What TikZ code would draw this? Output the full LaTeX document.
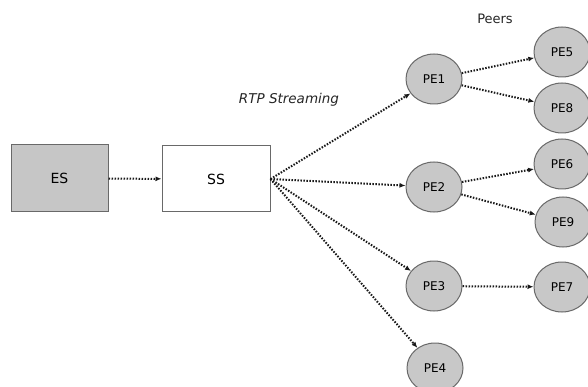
\documentclass[tikz,border=0pt]{standalone}
\usepackage{fontspec}
\setmainfont{DejaVu Sans}
\usetikzlibrary{shapes.geometric,arrows.meta}
\definecolor{boxgray}{RGB}{198,198,198}
\definecolor{peerfill}{RGB}{200,200,200}
\definecolor{edgegray}{RGB}{105,105,105}
\tikzset{
  server/.style={draw=edgegray,line width=1pt,minimum width=97pt,minimum height=67pt,inner sep=0pt,font=\fontsize{14}{16}\selectfont},
  peer/.style={ellipse,draw=edgegray,line width=1pt,fill=peerfill,minimum width=56pt,minimum height=50pt,inner sep=0pt,font=\fontsize{12}{14}\selectfont},
  flow/.style={line width=2pt,dash pattern=on 1.5pt off 1.5pt,-{Latex[length=6pt,width=5pt]},black!90},
  lbl/.style={font=\fontsize{13}{15}\selectfont,text=black!85}
}
\begin{document}
\begin{tikzpicture}[x=1pt,y=-1pt]
\useasboundingbox[fill=white] (0,0) rectangle (588,387);
% servers
\node[server,fill=boxgray] (ES) at (59.5,178.5) {ES};
\node[server,fill=white,minimum width=108pt,minimum height=66pt] (SS) at (216,179) {SS};
% peers
\node[peer] (PE1) at (434,79) {PE1};
\node[peer] (PE2) at (434,187) {PE2};
\node[peer] (PE3) at (434,286) {PE3};
\node[peer] (PE4) at (435,368) {PE4};
\node[peer] (PE5) at (562,52) {PE5};
\node[peer] (PE8) at (562,108) {PE8};
\node[peer] (PE6) at (562,164) {PE6};
\node[peer] (PE9) at (563,222) {PE9};
\node[peer] (PE7) at (562,287) {PE7};
% labels
\node[lbl] (peers) at (495,19) {Peers};
\node[lbl,font=\fontsize{13.5}{16}\selectfont\itshape] (rtp) at (289,100) {RTP Streaming};
% streams
\draw[flow] (ES) -- (SS);
\draw[flow] (SS.east) -- (PE1);
\draw[flow] (SS.east) -- (PE2);
\draw[flow] (SS.east) -- (PE3);
\draw[flow] (SS.east) -- (PE4);
\draw[flow] (PE1) -- (PE5);
\draw[flow] (PE1) -- (PE8);
\draw[flow] (PE2) -- (PE6);
\draw[flow] (PE2) -- (PE9);
\draw[flow] (PE3) -- (PE7);
\end{tikzpicture}
\end{document}
